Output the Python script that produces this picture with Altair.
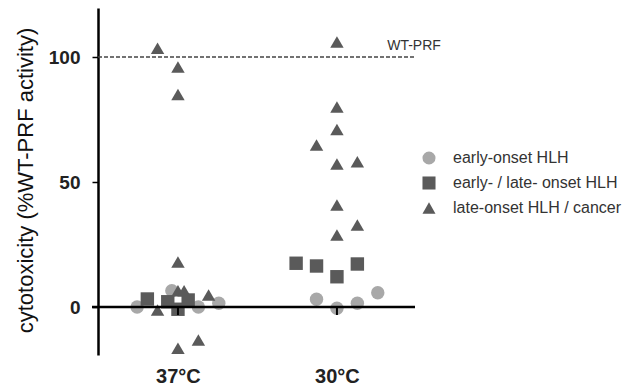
import altair as alt
import pandas as pd

categories = ["37°C", "30°C"]
groups = ["early-onset HLH", "early- / late- onset HLH", "late-onset HLH / cancer"]

# values (y = % WT-PRF activity, j = horizontal spread in half-slots)
c37_circle_y = [0, 6.5, 0, 1.5]
c37_circle_j = [-4, -0.6, 2, 4]
c37_square_y = [3.2, 2.1, -0.9, 2.8]
c37_square_j = [-3, -1, 0, 1]
c37_tri_y = [103.5, 96, 85, 18, 6.5, 6.5, -1.2, 4.8, -16.5, -13.2]
c37_tri_j = [-2, 0, 0, 0, 0, 0.6, -2, 3, 0, 2]

c30_circle_y = [3.1, -0.5, 1.5, 5.7]
c30_circle_j = [-2, 0, 2, 4]
c30_square_y = [17.5, 16.4, 12.1, 17.2]
c30_square_j = [-4, -2, 0, 2]
c30_tri_y = [106, 80, 71, 64.8, 57.2, 58.1, 40.8, 32.8, 28.8]
c30_tri_j = [0, 0, 0, -2, 0, 2, 0, 2, 0]

ref_value = 100
ref_label = "WT-PRF"

FONT = "Liberation Sans"
W, H = 317, 347
STEP = 0.0642

rows = []
sets = [
    (0, 0, c37_circle_y, c37_circle_j), (0, 1, c37_square_y, c37_square_j), (0, 2, c37_tri_y, c37_tri_j),
    (1, 0, c30_circle_y, c30_circle_j), (1, 1, c30_square_y, c30_square_j), (1, 2, c30_tri_y, c30_tri_j),
]
for ci, gi, ys, js in sets:
    for y, j in zip(ys, js):
        rows.append({"cat": categories[ci], "group": groups[gi], "order": gi,
                     "x": ci + j * STEP, "y": y})
df = pd.DataFrame(rows)

xscale = alt.Scale(domain=[-0.503, 1.491], nice=False, zero=False)
yscale = alt.Scale(domain=[-19.2, 119.6], nice=False, zero=False)

label_expr = " : ".join(f"datum.value == {i} ? '{c}'" for i, c in enumerate(categories[:-1])) + f" : '{categories[-1]}'"

points = alt.Chart(df).mark_point(filled=True, opacity=1, strokeWidth=0).encode(
    x=alt.X("x:Q", scale=xscale,
            axis=alt.Axis(values=list(range(len(categories))), labelExpr=label_expr, domain=False,
                          ticks=False, grid=False, labelFont=FONT, labelFontSize=20,
                          labelFontWeight="bold", labelColor="#222", labelPadding=27,
                          labelBaseline="alphabetic", title=None)),
    y=alt.Y("y:Q", scale=yscale,
            axis=alt.Axis(values=[0, 50, 100], grid=False, domainColor="black", domainWidth=2.5,
                          tickColor="black", tickSize=6, tickWidth=1.5, labelFont=FONT,
                          labelFontSize=19, labelFontWeight="bold", labelColor="#222",
                          labelPadding=12, title="cytotoxicity (%WT-PRF activity)",
                          titleFont=FONT, titleFontSize=22, titleFontWeight=500,
                          titleColor="#111", titleX=-73, titleY=172, titleAlign="center",
                          titleBaseline="middle", titleAngle=270)),
    shape=alt.Shape("group:N", sort=groups,
                    scale=alt.Scale(domain=groups, range=["circle", "square", "triangle-up"]),
                    legend=alt.Legend(title=None, orient="none", legendX=323, legendY=142,
                                      padding=0, symbolSize=170, labelFont=FONT,
                                      labelFontSize=16, labelColor="#333", labelOffset=16,
                                      labelLimit=400, rowPadding=9, symbolStrokeWidth=0)),
    color=alt.Color("group:N", sort=groups,
                    scale=alt.Scale(domain=groups, range=["#a8a8a8", "#5a5a5a", "#5a5a5a"])),
    size=alt.value(180),
    order=alt.Order("order:Q"),
)

zero_df = pd.DataFrame({"y": [0]})
zero_line = alt.Chart(zero_df).mark_rule(color="black", strokeWidth=2.5).encode(
    y=alt.Y("y:Q", scale=yscale), x=alt.value(-6), x2=alt.value(W))

cat_df = pd.DataFrame({"x": list(range(len(categories))), "y": [0] * len(categories), "y2": [-3.2] * len(categories)})
cat_ticks = alt.Chart(cat_df).mark_rule(color="black", strokeWidth=2).encode(
    x=alt.X("x:Q", scale=xscale), y=alt.Y("y:Q", scale=yscale), y2="y2:Q")

ref_df = pd.DataFrame({"y": [ref_value], "label": [ref_label]})
ref_line = alt.Chart(ref_df).mark_rule(color="#444", strokeWidth=1.3, strokeDash=[4, 2]).encode(
    y=alt.Y("y:Q", scale=yscale), x=alt.value(0), x2=alt.value(W))
ref_text = alt.Chart(ref_df).mark_text(font=FONT, fontSize=14, color="#333", align="center", dy=-11).encode(
    y=alt.Y("y:Q", scale=yscale), x=alt.value(316), text="label:N")

chart = alt.layer(ref_line, ref_text, points, zero_line, cat_ticks).properties(
    width=W, height=H,
    autosize=alt.AutoSizeParams(type="none"),
    padding={"left": 90, "top": 0, "right": 210, "bottom": 31},
).configure(background="white").configure_view(stroke=None)

chart.save("out.html", embed_options={"renderer": "svg", "actions": False})
